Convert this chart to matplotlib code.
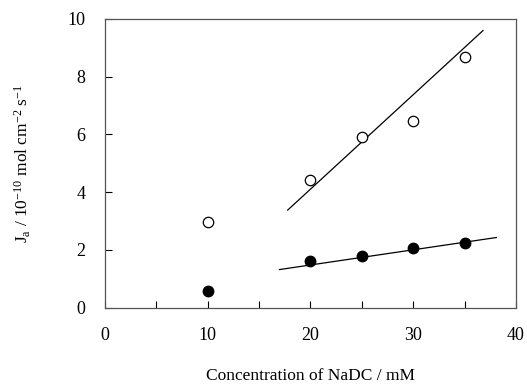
import numpy as np
import matplotlib
matplotlib.use("Agg")
import matplotlib.pyplot as plt

# open circles
x_open = [10, 20, 25, 30, 35]
y_open = [2.95, 4.42, 5.92, 6.48, 8.68]
# filled circles
x_fill = [10, 20, 25, 30, 35]
y_fill = [0.58, 1.60, 1.78, 2.05, 2.25]
# fitted lines (end points)
fit_open_x = [17.8, 36.8]
fit_open_y = [3.38, 9.60]
fit_fill_x = [17.0, 38.1]
fit_fill_y = [1.32, 2.43]

plt.rcParams['font.family'] = ['Liberation Serif', 'DejaVu Serif']
plt.rcParams['mathtext.fontset'] = 'custom'
plt.rcParams['mathtext.rm'] = 'Liberation Serif'
plt.rcParams['mathtext.it'] = 'Liberation Serif:italic'

fig = plt.figure(figsize=(5.27, 3.87), dpi=100)
ax = fig.add_axes([0.1987, 0.205, 0.7803, 0.746])

ax.plot(fit_open_x, fit_open_y, color='black', lw=0.9)
ax.plot(fit_fill_x, fit_fill_y, color='black', lw=0.9)
ax.plot(x_open, y_open, 'o', ms=7.5, mfc='white', mec='black', mew=0.9)
ax.plot(x_fill, y_fill, 'o', ms=7.5, mfc='black', mec='black')

ax.set_xlim(0, 40)
ax.set_ylim(0, 10)
ax.set_xticks([0, 10, 20, 30, 40])
ax.set_xticks([5, 15, 25, 35], minor=True)
ax.set_yticks([0, 2, 4, 6, 8, 10])
ax.tick_params(which='both', direction='in', length=5, width=0.8,
               labelsize=13, top=False, right=False)
ax.tick_params(axis='x', pad=14)
ax.tick_params(axis='y', pad=14)
for s in ax.spines.values():
    s.set_linewidth(0.9)
    s.set_color('#555555')

ax.set_xlabel('Concentration of NaDC / mM', fontsize=12.5, labelpad=17)
ax.set_ylabel(r'J$_{\rm a}$ / 10$^{-10}$ mol cm$^{-2}$ s$^{-1}$', fontsize=12.5, labelpad=25)

fig.savefig('out.png', dpi=100)
